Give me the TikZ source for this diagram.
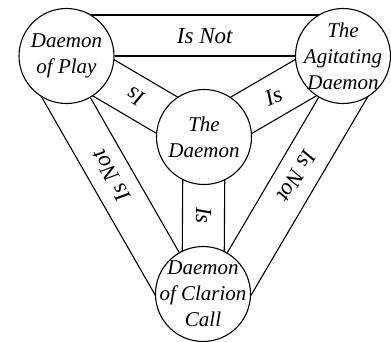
\documentclass[tikz,border=0pt]{standalone}
\usepackage{fontspec}
\setmainfont{Liberation Serif}
\usetikzlibrary{calc,backgrounds}

\begin{document}
\begin{tikzpicture}[
    x=1pt, y=-1pt,
    daemon/.style={draw, circle, fill=white, line width=1.1pt, minimum size=95pt, inner sep=-15pt, align=center, font=\fontsize{21}{26}\selectfont\itshape},
    band/.style={line width=1.1pt},
    bandlbl/.style={font=\fontsize{23}{26}\selectfont\itshape, inner sep=0pt}
]
\useasboundingbox (0,0) rectangle (391,341);
\node[daemon] (play) at (66.5,56) {Daemon\\of Play};
\node[daemon] (agit) at (343,56) {The\\Agitating\\Daemon};
\node[daemon] (core) at (204,137) {The\\Daemon};
\node[daemon] (clar) at (203,294) {Daemon\\of Clarion\\Call};

\begin{scope}[on background layer]
% rim bands
\draw[band] (play) -- (agit);
\draw[band] ($(play)!41pt!90:(agit)$) -- ($(agit)!41pt!-90:(play)$);
\draw[band] (play) -- (clar);
\draw[band] ($(play)!42pt!-90:(clar)$) -- ($(clar)!42pt!90:(play)$);
\draw[band] (agit) -- (clar);
\draw[band] ($(agit)!42pt!90:(clar)$) -- ($(clar)!42pt!-90:(agit)$);
% spokes to the centre
\foreach \d in {play,agit,clar} {
  \draw[band] ($(core)!21pt!90:(\d)$) -- ($(\d)!21pt!-90:(core)$);
  \draw[band] ($(core)!21pt!-90:(\d)$) -- ($(\d)!21pt!90:(core)$);
}
\end{scope}

\path ($(play)!20pt!90:(agit)$) -- node[bandlbl] {Is Not} ($(agit)!20pt!-90:(play)$);
\path ($(play)!21pt!-90:(clar)$) -- node[bandlbl, pos=0.46, rotate=120] {Is Not} ($(clar)!21pt!90:(play)$);
\path ($(agit)!21pt!90:(clar)$) -- node[bandlbl, pos=0.46, rotate=-120] {Is Not} ($(clar)!21pt!-90:(agit)$);
\path (play) -- node[bandlbl, rotate=150] {Is} (core);
\path (core) -- node[bandlbl, rotate=22] {Is} (agit);
\path (core) -- node[bandlbl, rotate=-90] {Is} (clar);
\end{tikzpicture}
\end{document}
